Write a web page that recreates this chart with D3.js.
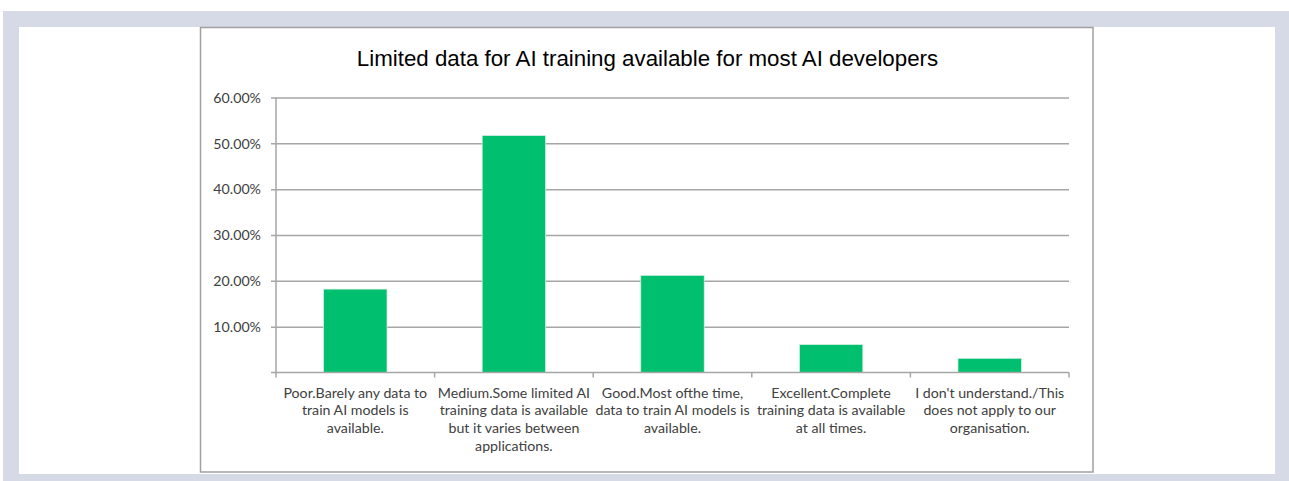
<!DOCTYPE html>
<html>
<head>
<meta charset="utf-8">
<script src="https://cdn.jsdelivr.net/npm/d3@7"></script>
<style>
  html, body { margin: 0; padding: 0; background: #fff; }
  svg { display: block; }
</style>
</head>
<body>
<div id="chart_parent"></div>
<script>
// values
const categories = ['poor', 'medium', 'good', 'excellent', 'na'];
const labelLines = [
    ['Poor.Barely any data to', 'train AI models is', 'available.'],
    ['Medium.Some limited AI', 'training data is available', 'but it varies between', 'applications.'],
    ['Good.Most ofthe time,', 'data to train AI models is', 'available.'],
    ['Excellent.Complete', 'training data is available', 'at all times.'],
    ['I don\'t understand./This', 'does not apply to our', 'organisation.'],
];
const shares = [0.182, 0.517, 0.212, 0.061, 0.031];
const yTicks = [0.1, 0.2, 0.3, 0.4, 0.5, 0.6];
const title = 'Limited data for AI training available for most AI developers';

const config = {
    outerWidth: 1289,
    outerHeight: 481,
    plot: { left: 276, right: 1069, top: 97.5, bottom: 372.5 },
    barColour: '#00bf6f',
    gridColour: '#a6a6a6',
    textColour: '#404040',
    labelFont: 'Lato, "Open Sans", sans-serif',
    labelSize: 14.2,
};

const svg = d3.select('#chart_parent').append('svg')
    .attr('width', config.outerWidth)
    .attr('height', config.outerHeight);

// page background and frames
svg.append('rect')
    .attr('x', 3).attr('y', 11)
    .attr('width', config.outerWidth - 3).attr('height', config.outerHeight - 11)
    .attr('fill', '#d6d9e6');
svg.append('rect')
    .attr('x', 19).attr('y', 27)
    .attr('width', 1256).attr('height', 447)
    .attr('fill', '#fff');
svg.append('rect')
    .attr('x', 200.5).attr('y', 27.5)
    .attr('width', 892.5).attr('height', 444.5)
    .attr('fill', 'none')
    .attr('stroke', '#a0a0a0')
    .attr('stroke-width', 1.5);

svg.append('text')
    .attr('x', 647.5).attr('y', 66)
    .attr('text-anchor', 'middle')
    .attr('font-family', '"Liberation Sans", Arial, sans-serif')
    .attr('font-size', 22.3)
    .attr('fill', '#000')
    .text(title);

const plotLeft = config.plot.left;
const plotRight = config.plot.right;
const plotTop = config.plot.top;
const plotBottom = config.plot.bottom;

const x = d3.scaleBand()
    .domain(categories)
    .range([plotLeft, plotRight])
    .paddingInner(0.6)
    .paddingOuter(0.3);

const y = d3.scaleLinear()
    .domain([0, 0.6])
    .range([plotBottom, plotTop]);

// horizontal gridlines with left tick stubs
const yAxis = d3.axisLeft(y)
    .tickValues(yTicks)
    .tickSize(plotRight - plotLeft + 5)
    .tickFormat(d3.format('.2%'));

const yAxisGroup = svg.append('g')
    .attr('transform', `translate(${plotRight},0)`)
    .call(yAxis);
yAxisGroup.select('.domain').remove();
yAxisGroup.selectAll('.tick line')
    .attr('stroke', config.gridColour)
    .attr('stroke-width', 1.5);
yAxisGroup.selectAll('.tick text').remove();

// y tick labels
svg.append('g').selectAll('text')
    .data(yTicks)
    .join('text')
    .attr('x', 261)
    .attr('y', d => y(d))
    .attr('dy', '0.37em')
    .attr('text-anchor', 'end')
    .attr('font-family', config.labelFont)
    .attr('font-size', config.labelSize)
    .attr('fill', config.textColour)
    .text(d3.format('.2%'));

// vertical axis line
svg.append('line')
    .attr('x1', plotLeft).attr('x2', plotLeft)
    .attr('y1', plotTop).attr('y2', plotBottom)
    .attr('stroke', config.gridColour)
    .attr('stroke-width', 1.5);

// bars
svg.append('g').selectAll('rect')
    .data(categories)
    .join('rect')
    .attr('x', d => x(d))
    .attr('width', x.bandwidth())
    .attr('y', (d, i) => y(shares[i]))
    .attr('height', (d, i) => y(0) - y(shares[i]))
    .attr('fill', config.barColour)
    .attr('stroke', '#d8efe3')
    .attr('stroke-width', 0.75);

// x axis line and category boundary ticks
const step = x.step();
const boundaries = d3.range(categories.length + 1).map(i => plotLeft + i * step);
svg.append('line')
    .attr('x1', plotLeft - 5).attr('x2', plotRight)
    .attr('y1', plotBottom).attr('y2', plotBottom)
    .attr('stroke', config.gridColour)
    .attr('stroke-width', 1.5);
svg.append('g').selectAll('line')
    .data(boundaries)
    .join('line')
    .attr('x1', d => d).attr('x2', d => d)
    .attr('y1', plotBottom).attr('y2', plotBottom + 5)
    .attr('stroke', config.gridColour)
    .attr('stroke-width', 1.5);

// wrapped category labels
const labels = svg.append('g').selectAll('text')
    .data(categories)
    .join('text')
    .attr('text-anchor', 'middle')
    .attr('font-family', config.labelFont)
    .attr('font-size', config.labelSize)
    .attr('fill', config.textColour);
labels.each(function (d, i) {
    const cx = x(d) + x.bandwidth() / 2;
    d3.select(this).selectAll('tspan')
        .data(labelLines[i])
        .join('tspan')
        .attr('x', cx)
        .attr('y', (line, j) => 397.5 + j * 17.9)
        .text(line => line);
});
</script>
</body>
</html>
